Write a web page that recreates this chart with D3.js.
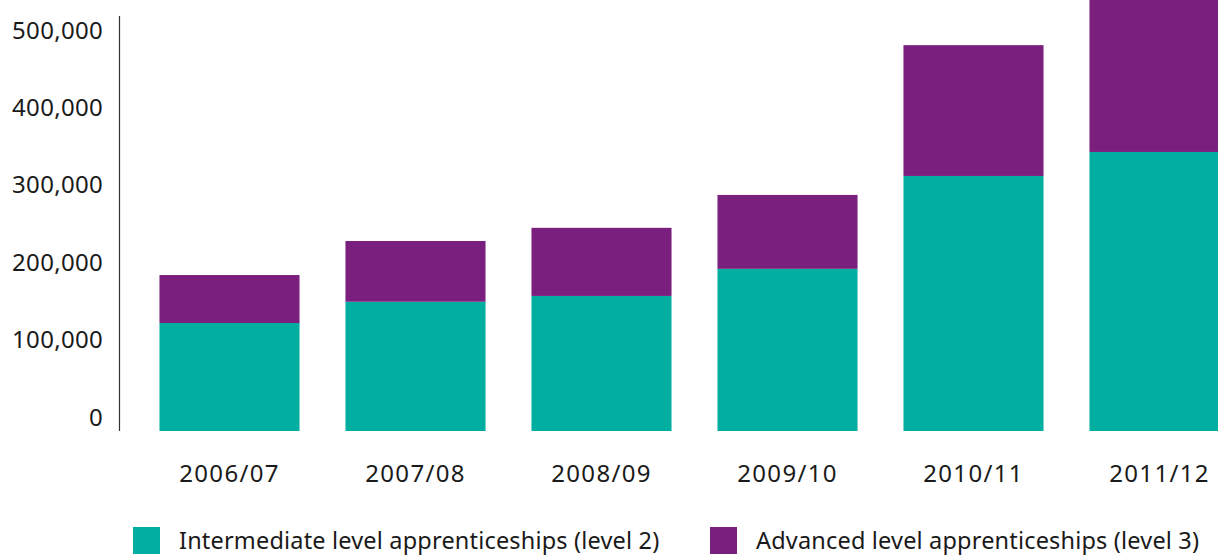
<!DOCTYPE html>
<html>
<head>
<meta charset="utf-8">
<script src="https://cdn.jsdelivr.net/npm/d3@7"></script>
<style>
  html, body { margin: 0; padding: 0; background: #fff; }
  svg { display: block; }
  text { font-family: "Noto Sans", sans-serif; fill: #1a1a1a; }
</style>
</head>
<body>
<svg id="chart" width="1218" height="555"></svg>
<script>
const categories = ["2006/07", "2007/08", "2008/09", "2009/10", "2010/11", "2011/12"];
const intermediate = [139500, 167000, 174500, 209500, 329500, 360500];
const advanced = [62000, 78500, 88000, 95500, 169000, 207500];
const yTicks = [0, 100000, 200000, 300000, 400000, 500000];
const seriesNames = ["Intermediate level apprenticeships (level 2)", "Advanced level apprenticeships (level 3)"];
const colors = ["#02ae9f", "#7a1f7d"];

const svg = d3.select("#chart");

const rows = categories.map((c, i) => ({ cat: c, s0: intermediate[i], s1: advanced[i] }));
const stack = d3.stack().keys(["s0", "s1"]);
const layers = stack(rows);

const x = d3.scaleBand().domain(categories).range([136.5, 1252.5]).paddingInner(0.247).paddingOuter(0.1235);
const y = d3.scaleLinear().domain([0, 500000]).range([431, 44]);

// bars
svg.append("g").selectAll("g").data(layers).join("g")
  .attr("fill", (d, i) => colors[i])
  .selectAll("rect").data(d => d).join("rect")
  .attr("x", d => x(d.data.cat))
  .attr("width", x.bandwidth())
  .attr("y", d => y(d[1]))
  .attr("height", d => y(d[0]) - y(d[1]));

// y axis
const yAxis = d3.axisLeft(y).tickValues(yTicks).tickSize(0).tickPadding(0)
  .tickFormat(d3.format(","));
const gy = svg.append("g").attr("transform", "translate(103,0)").call(yAxis);
gy.select(".domain").remove();
gy.selectAll("text").attr("font-size", 24).attr("fill", "#1a1a1a")
  .style("font-family", '"Noto Sans", sans-serif').style("letter-spacing", "0.3px");
gy.selectAll(".tick").each(function(d) {
  d3.select(this).select("text").attr("y", 0).attr("dy", -6);
});

svg.append("line").attr("x1", 119.5).attr("x2", 119.5).attr("y1", 16).attr("y2", y(0))
  .attr("stroke", "#333").attr("stroke-width", 1.2);

// x axis
const xAxis = d3.axisBottom(x).tickSize(0).tickPadding(0);
const gx = svg.append("g").attr("transform", "translate(0,482)").call(xAxis);
gx.select(".domain").remove();
gx.selectAll("text").attr("y", 0).attr("dy", 0).attr("font-size", 24).attr("fill", "#1a1a1a")
  .style("font-family", '"Noto Sans", sans-serif').style("letter-spacing", "1.3px");

// legend
const legendX = [133, 710];
const lg = svg.append("g").selectAll("g").data(seriesNames).join("g")
  .attr("transform", (d, i) => `translate(${legendX[i]},527)`);
lg.append("rect").attr("width", 27).attr("height", 27).attr("fill", (d, i) => colors[i]);
lg.append("text").attr("x", 46).attr("y", 21.5).attr("font-size", 23.5)
  .style("letter-spacing", "0.18px").text(d => d);
</script>
</body>
</html>
